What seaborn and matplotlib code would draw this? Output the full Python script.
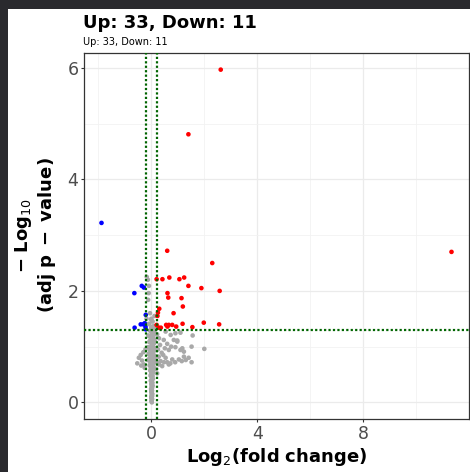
import numpy as np
import pandas as pd
import matplotlib
matplotlib.use("Agg")
import matplotlib.pyplot as plt
import seaborn as sns
from matplotlib.patches import Rectangle
from matplotlib.ticker import MultipleLocator

# Significantly up-regulated features (log2 fold change, -log10 adjusted p)
up_lfc = [0.60, 2.30, 0.20, 0.42, 0.68, 1.06, 1.24, 1.40, 1.89, 2.58,
          0.61, 0.64, 1.14, 1.19, 0.30, 0.25, 0.84, 1.98, 2.56, 1.18,
          0.20, 0.56, 0.66, 0.79, 0.94, 1.55, 0.28, 0.36, 2.62, 1.40,
          11.33, 0.23, 0.61]
up_padj = [2.72, 2.50, 2.21, 2.21, 2.24, 2.21, 2.24, 2.09, 2.05, 2.00,
           1.96, 1.88, 1.87, 1.72, 1.68, 1.61, 1.60, 1.43, 1.40, 1.41,
           1.39, 1.39, 1.39, 1.39, 1.36, 1.35, 1.34, 1.34, 5.97, 4.81,
           2.70, 1.55, 1.36]

# Significantly down-regulated features
down_lfc = [-1.88, -0.64, -0.36, -0.28, -0.21, -0.63, -0.40, -0.30, -0.21, -0.22, -0.25]
down_padj = [3.22, 1.96, 2.09, 2.06, 1.57, 1.34, 1.40, 1.40, 1.31, 1.35, 1.42]

# Non-significant features
ns_lfc = [
    0.02, 0.01, 0.03, 0.00, 0.02, 0.04, 0.01, 0.03, -0.01, 0.02,
    0.05, 0.00, 0.03, -0.02, 0.06, 0.01, -0.03, 0.04, 0.07, -0.04,
    0.02, 0.08, -0.06, 0.05, -0.02, 0.10, -0.08, 0.03, 0.12, -0.10,
    0.06, -0.04, 0.11, -0.12, 0.01, 0.09, -0.07, 0.13, -0.02, 0.07,
    -0.11, 0.04, 0.12, -0.05, 0.02, 0.09, -0.08, 0.05, 0.00,
    0.00, -0.02, 0.03, 0.01, -0.01, 0.04, 0.00, 0.02, 0.00, 0.01,
    0.00, 0.05, -0.03, 0.07, -0.06, 0.09, 0.14, 0.16, -0.14, 0.15,
    0.01, 0.02, 0.00, 0.03, 0.01, 0.02, 0.00, 0.03, 0.01, 0.02,
    0.04, 0.00, 0.02, 0.05, -0.01, 0.03, 0.01, 0.06, -0.02, 0.04,
    0.00, 0.07, -0.03, 0.02, 0.08, -0.05, 0.05, 0.10, -0.04, 0.03,
    0.06, -0.06, 0.09, 0.01, -0.08, 0.11, 0.04, -0.03, 0.08, 0.00,
    -0.47, -0.40, -0.28, -0.53, -0.35, -0.30, -0.22, -0.25, -0.38,
    -0.17, -0.13, -0.09, -0.10, -0.12, -0.05, 0.00, -0.15, 0.16, 0.12, -0.18,
    0.29, 0.41, 0.54, 0.66, 0.79, 1.04, 1.23, 1.41, 1.10, 0.91,
    0.66, 0.51, 0.39, 0.29, 0.47, 0.85, 0.98, 0.54, 0.73, 0.91,
    1.10, 0.98, 1.17, 1.23, 1.52, 1.52, 1.56, 2.00, 0.20, 0.35,
    0.48, 0.60, 0.72, 0.90, 1.15, 1.30, 0.25, 0.33, 0.22, 0.60,
    0.75, 0.28, 0.45, 0.18, 0.22,
]
ns_padj = [
    0.00, 0.03, 0.06, 0.09, 0.12, 0.15, 0.18, 0.21, 0.24, 0.27,
    0.30, 0.33, 0.36, 0.39, 0.42, 0.45, 0.48, 0.51, 0.54, 0.57,
    0.60, 0.63, 0.66, 0.69, 0.72, 0.75, 0.78, 0.81, 0.84, 0.87,
    0.90, 0.93, 0.96, 0.99, 1.02, 1.05, 1.08, 1.11, 1.14, 1.17,
    1.20, 1.23, 1.26, 1.29, 1.33, 1.37, 1.41, 1.45, 1.50,
    0.62, 0.67, 0.74, 0.86, 0.95, 1.00, 0.55, 0.40, 0.20, 0.10,
    0.77, 0.82, 0.70, 0.65, 0.85, 0.92, 0.72, 0.80, 0.76, 0.97,
    0.02, 0.05, 0.08, 0.11, 0.14, 0.17, 0.22, 0.26, 0.29, 0.32,
    0.35, 0.38, 0.43, 0.47, 0.50, 0.53, 0.56, 0.59, 0.61, 0.64,
    0.68, 0.71, 0.73, 0.79, 0.83, 0.88, 0.91, 0.94, 0.98, 1.03,
    1.07, 1.10, 1.13, 1.16, 1.19, 1.22, 1.25, 1.28, 1.31, 1.35,
    0.80, 0.85, 0.68, 0.70, 0.75, 0.90, 0.95, 0.62, 0.66,
    2.25, 2.20, 2.09, 1.96, 1.84, 1.60, 1.48, 1.40, 1.35, 1.55, 1.50,
    0.68, 0.65, 0.80, 0.68, 0.77, 0.77, 0.82, 0.80, 0.94, 0.99,
    0.94, 0.97, 0.89, 1.15, 1.12, 1.12, 1.09, 1.27, 1.21, 1.24,
    1.25, 1.11, 0.97, 0.91, 0.72, 1.00, 1.20, 0.96, 0.72, 0.74,
    0.72, 0.72, 0.70, 0.72, 0.74, 0.76, 0.95, 1.03, 1.22, 1.05,
    1.00, 0.82, 0.85, 0.60, 0.52,
]

lfc_cutoff = 0.2
p_cutoff = -np.log10(0.05)

df = pd.concat([
    pd.DataFrame({"log2fc": ns_lfc, "neglog10p": ns_padj, "status": "NS"}),
    pd.DataFrame({"log2fc": down_lfc, "neglog10p": down_padj, "status": "Down"}),
    pd.DataFrame({"log2fc": up_lfc, "neglog10p": up_padj, "status": "Up"}),
], ignore_index=True)

sns.set_theme(style="white")
plt.rcParams["font.family"] = ["DejaVu Sans"]
plt.rcParams["mathtext.fontset"] = "dejavusans"

W, H = 470, 472
fig = plt.figure(figsize=(W / 100, H / 100), dpi=100)
fig.patch.set_facecolor("#2a2a2e")
fig.patches.append(Rectangle((8 / W, 0), 1, 1 - 9 / H, transform=fig.transFigure,
                             facecolor="white", edgecolor="none", zorder=-10))

ax = fig.add_axes([84 / W, 1 - 419 / H, (469 - 84) / W, (419 - 53) / H])
ax.set_facecolor("white")

sns.scatterplot(data=df, x="log2fc", y="neglog10p", hue="status",
                palette={"NS": "#a9a9a9", "Down": "#0000ff", "Up": "#ff0000"},
                s=11, linewidth=0, legend=False, ax=ax, zorder=3)

line_kw = dict(color="#006400", linestyle=(0, (1, 1)), linewidth=1.6, zorder=4)
ax.axvline(-lfc_cutoff, **line_kw)
ax.axvline(lfc_cutoff, **line_kw)
ax.axhline(p_cutoff, **line_kw)

# ggplot-style 5% expansion of the data range
xmin, xmax = df["log2fc"].min(), df["log2fc"].max()
ymin, ymax = 0.0, df["neglog10p"].max()
xpad, ypad = 0.05 * (xmax - xmin), 0.05 * (ymax - ymin)
ax.set_xlim(xmin - xpad, xmax + xpad)
ax.set_ylim(ymin - ypad, ymax + ypad)

ax.xaxis.set_major_locator(MultipleLocator(4))
ax.xaxis.set_minor_locator(MultipleLocator(2))
ax.yaxis.set_major_locator(MultipleLocator(2))
ax.yaxis.set_minor_locator(MultipleLocator(1))
ax.grid(which="major", color="#ebebeb", linewidth=0.9, zorder=0)
ax.grid(which="minor", color="#f2f2f2", linewidth=0.6, zorder=0)
ax.set_axisbelow(True)

for sp in ax.spines.values():
    sp.set_color("#333333")
    sp.set_linewidth(0.9)

ax.tick_params(which="major", length=2.5, width=0.8, color="#333333",
               labelcolor="#4d4d4d", labelsize=12.5, pad=1.5,
               bottom=True, left=True)
ax.tick_params(which="minor", length=0)
ax.set_xlabel("")
ax.set_ylabel("")

fig.text(83 / W, 1 - 28.5 / H, "Up: 33, Down: 11", fontsize=13,
         fontweight="bold", ha="left", va="baseline", color="black")
fig.text(83 / W, 1 - 45 / H, "Up: 33, Down: 11", fontsize=7,
         ha="left", va="baseline", color="black")

fig.text(276.5 / W, 1 - 462 / H, r"$\mathbf{Log}_{2}\mathbf{(fold\ change)}$",
         fontsize=13, ha="center", va="baseline", color="black")
fig.text(23 / W, 1 - 235 / H, r"$\mathbf{-\ Log}_{10}$", fontsize=13,
         rotation=90, ha="center", va="center", color="black")
fig.text(47 / W, 1 - 235 / H, r"$\mathbf{(adj\ p\ -\ value)}$", fontsize=13,
         rotation=90, ha="center", va="center", color="black")

fig.savefig("out.png", dpi=100)
